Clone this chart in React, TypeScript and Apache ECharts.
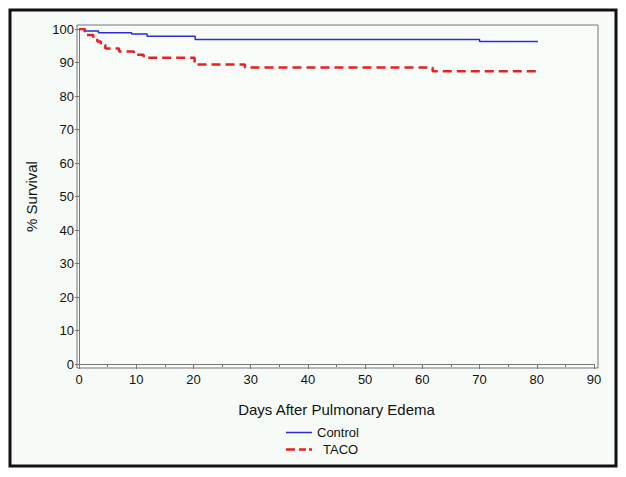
import React, { useEffect, useRef } from "react";
import * as echarts from "echarts";

const controlDays = [0, 1.1, 3.4, 9.2, 11.9, 20.3, 70, 80.2];
const controlSurvival = [100, 99.4, 98.9, 98.5, 97.8, 96.9, 96.3, 96.3];
const tacoDays = [0, 1, 2.5, 3.2, 3.8, 4.6, 7, 9.6, 11.3, 20.2, 29, 61.8, 80.2];
const tacoSurvival = [100, 98.2, 97.3, 96.3, 95.3, 94.2, 93.3, 92.3, 91.4, 89.4, 88.5, 87.4, 87.4];

const FONT = "'Liberation Sans', Arial, sans-serif";

export default function App() {
  const ref = useRef<HTMLDivElement>(null);
  useEffect(() => {
    if (!ref.current) return;
    const chart = echarts.init(ref.current, null, { renderer: "svg" });
    chart.setOption({
      animation: false,
      backgroundColor: "#ffffff",
      textStyle: { fontFamily: FONT },
      graphic: [
        {
          type: "rect",
          z: -10,
          shape: { x: 10, y: 10, width: 606, height: 456 },
          style: { fill: "#f6fbf8", stroke: "#111", lineWidth: 3 },
          silent: true,
        },
        {
          type: "rect",
          z: -5,
          shape: { x: 77, y: 25, width: 521, height: 343 },
          style: { fill: "#f7fcf9", stroke: "#777", lineWidth: 1 },
          silent: true,
        },
      ],
      grid: { left: 79, right: 32, top: 29, bottom: 113 },
      legend: {
        orient: "vertical",
        left: 281,
        top: 421,
        itemWidth: 26,
        itemHeight: 14,
        itemGap: 4,
        formatter: (name: string) => (name === "TACO" ? "{p|" + name + "}" : name),
        textStyle: {
          fontSize: 13,
          color: "#111",
          fontFamily: FONT,
          rich: { p: { fontSize: 13, color: "#111", fontFamily: FONT, padding: [0, 0, 0, 6] } },
        },
        data: [
          { name: "Control", icon: "path://M0,0 L26,0 L26,1.5 L0,1.5 Z" },
          { name: "TACO", icon: "path://M0,0 L9,0 L9,2.5 L0,2.5 Z M13,0 L20,0 L20,2.5 L13,2.5 Z M23,0 L26,0 L26,2.5 L23,2.5 Z" },
        ],
      },
      xAxis: {
        type: "value",
        min: 0,
        max: 90,
        interval: 10,
        offset: 4,
        name: "Days After Pulmonary Edema",
        nameLocation: "middle",
        nameGap: 34,
        nameTextStyle: { fontSize: 15, color: "#111", fontFamily: FONT },
        axisLine: { show: true, lineStyle: { color: "#777" } },
        axisTick: { show: true, length: 5, lineStyle: { color: "#777" } },
        minorTick: { show: true, splitNumber: 2, length: 3, lineStyle: { color: "#777" } },
        axisLabel: { fontSize: 13, color: "#111", margin: 5 },
        splitLine: { show: false },
      },
      yAxis: {
        type: "value",
        min: 0,
        max: 100,
        interval: 10,
        offset: 2,
        name: "% Survival",
        nameLocation: "middle",
        nameGap: 38,
        nameRotate: 90,
        nameTextStyle: { fontSize: 15, color: "#111", fontFamily: FONT },
        axisLine: { show: true, lineStyle: { color: "#777" } },
        axisTick: { show: true, length: 4, lineStyle: { color: "#777" } },
        axisLabel: { fontSize: 13, color: "#111", margin: 3 },
        splitLine: { show: false },
      },
      series: [
        {
          name: "Control",
          type: "line",
          step: "end",
          symbol: "none",
          color: "#2b2bdc",
          lineStyle: { width: 1.5, color: "#2b2bdc" },
          data: controlDays.map((d, i) => [d, controlSurvival[i]]),
        },
        {
          name: "TACO",
          type: "line",
          step: "end",
          symbol: "none",
          color: "#e52222",
          lineStyle: { width: 2.5, color: "#e52222", type: [9, 5] },
          data: tacoDays.map((d, i) => [d, tacoSurvival[i]]),
        },
      ],
    });
    return () => chart.dispose();
  }, []);
  return <div ref={ref} style={{ width: 626, height: 477, position: "absolute", left: 0, top: 0 }} />;
}
